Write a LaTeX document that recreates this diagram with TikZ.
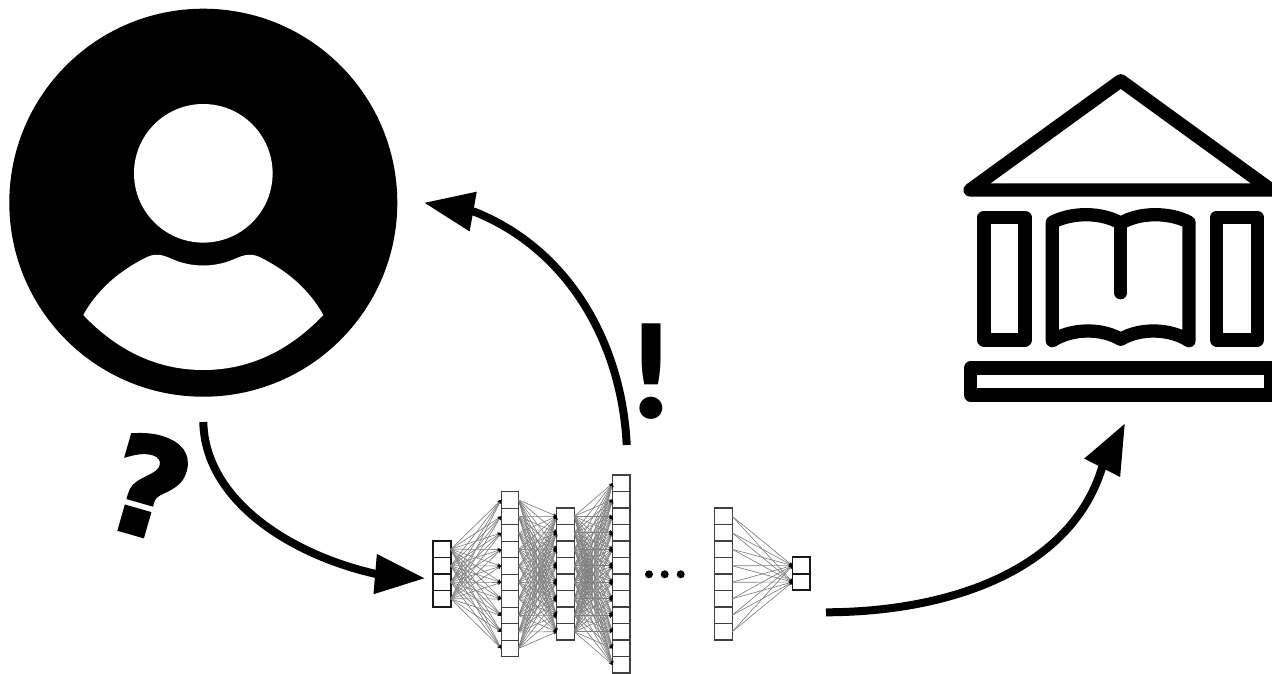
\documentclass[tikz,border=0pt]{standalone}
\usepackage{fontspec}
\newfontfamily\bangfont{Lato Black}
\newfontfamily\askfont{DejaVu Sans Bold}[FakeBold=3]
\usetikzlibrary{arrows.meta}
\tikzset{
  cell/.style={draw=black!75,fill=white,line width=1.2pt,minimum width=17.4pt,minimum height=16.5pt,inner sep=0pt,outer sep=0pt},
  thickcell/.style={cell,draw=black!90,line width=1.8pt},
  link/.style={draw=black!50,line width=0.65pt,-{Stealth[length=3.5pt,width=3.5pt,black]}},
  flow/.style={line width=8pt,-{Triangle[length=50pt,width=38pt]}},
  icon/.style={line width=13.3pt,line join=round,line cap=round},
  dotn/.style={circle,fill=black,minimum size=8pt,inner sep=0pt},
}
\begin{document}
\begin{tikzpicture}[x=1pt,y=-1pt]
\useasboundingbox (0,0) rectangle (1272,673);
% user
\node[circle,fill=black,minimum size=388pt,inner sep=0pt] (user) at (203.3,202.7) {};
\node[circle,fill=white,minimum size=138.6pt,inner sep=0pt] (head) at (203.3,173.3) {};
\fill[white] (83.3,315) .. controls (100,285) and (125,268) .. (147,257)
  .. controls (158,252) and (165,256) .. (177,261)
  .. controls (194,267) and (212,267) .. (229.6,261)
  .. controls (241.6,256) and (248.6,252) .. (259.6,257)
  .. controls (281.6,268) and (306.6,285) .. (323.3,315)
  .. controls (290,350) and (250,370) .. (203.3,370)
  .. controls (156.6,370) and (116.6,350) .. (83.3,315) -- cycle;
% library
\draw[icon] (970,190) -- (1120.7,80.7) -- (1271.3,190) -- cycle;
\draw[icon] (984,217.3) rectangle (1025,340);
\draw[icon] (1216.7,217.3) rectangle (1257.3,340);
\draw[icon] (1052.3,340.7) -- (1052.3,222.3) .. controls (1072,212) and (1102,212) .. (1120.7,223.3)
  .. controls (1139.4,212) and (1169.4,212) .. (1189,222.3) -- (1189,340.7)
  .. controls (1169.4,328) and (1139.4,328) .. (1120.7,339.3)
  .. controls (1102,328) and (1072,328) .. (1052.3,340.7) -- cycle;
\draw[icon] (1120.7,223.3) -- (1120.7,292.7);
\draw[icon] (970.7,368) rectangle (1271,395);
% network
\foreach \L/\x/\t/\n/\s in {1/442/541/4/thickcell,2/509.8/491.7/10/cell,3/565.5/508/8/cell,4/621.3/475/12/cell,5/723.5/508/8/cell,6/801.2/557.3/2/thickcell}
  \foreach \i in {1,...,\n}
    \node[\s] (l\L c\i) at (\x,{\t+(\i-0.5)*16.5}) {};
\foreach \a/\na/\b/\nb in {1/4/2/10,2/10/3/8,3/8/4/12,5/8/6/2}
  \foreach \i in {1,...,\na}
    \foreach \j in {1,...,\nb}
      \draw[link] (l\a c\i.east) -- (l\b c\j.west);
\node[dotn] (d1) at (649,574.3) {};
\node[dotn] (d2) at (664.7,574.3) {};
\node[dotn] (d3) at (680.7,574.3) {};
% connectors
\coordinate (askstart) at (203.3,422);
\coordinate (askbase) at (377.5,574.3);
\coordinate (asktip) at (425,578.3);
\coordinate (ansstart) at (626.7,445);
\coordinate (ansbase) at (474.5,211.8);
\coordinate (anstip) at (424,202.7);
\coordinate (libstart) at (826,612.3);
\coordinate (libbase) at (1101.7,468.7);
\coordinate (libtip) at (1125,423.3);
\draw[flow] (askstart) .. controls (205,500) and (290,555) .. (askbase) -- (asktip);
\draw[flow] (ansstart) .. controls (622,345) and (570,250) .. (ansbase) -- (anstip);
\draw[flow] (libstart) .. controls (950,612) and (1070,570) .. (libbase) -- (libtip);
% marks
\node[anchor=base,inner sep=0pt] (bang) at (651.3,418) {\bangfont\fontsize{130}{130}\selectfont !};
\node[rotate=-16,inner sep=0pt] (ask) at (149,486) {\askfont\fontsize{134}{134}\selectfont ?};
\end{tikzpicture}
\end{document}
